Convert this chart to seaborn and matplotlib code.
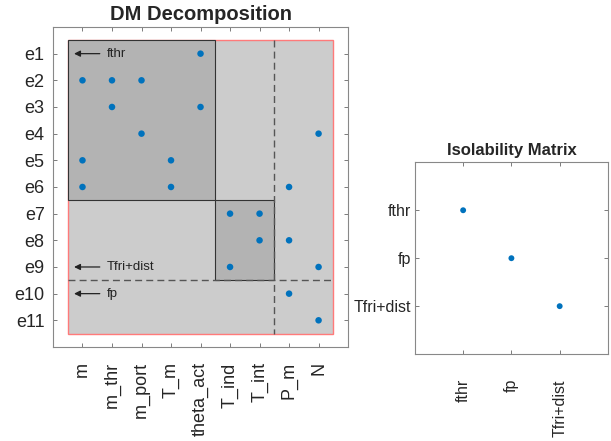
import matplotlib
matplotlib.use("Agg")
import matplotlib.pyplot as plt
import matplotlib.patches as mpatches
import seaborn as sns
import pandas as pd

# ---- data ----
equations = ["e1", "e2", "e3", "e4", "e5", "e6", "e7", "e8", "e9", "e10", "e11"]
variables = ["m", "m_thr", "m_port", "T_m", "theta_act", "T_ind", "T_int", "P_m", "N"]
dot_eq = ["e1", "e2", "e2", "e2", "e3", "e3", "e4", "e4", "e5", "e5",
          "e6", "e6", "e6", "e7", "e7", "e8", "e8", "e9", "e9", "e10", "e11"]
dot_var = ["theta_act", "m", "m_thr", "m_port", "m_thr", "theta_act", "m_port", "N", "m", "T_m",
           "m", "T_m", "P_m", "T_ind", "T_int", "T_int", "P_m", "T_ind", "N", "P_m", "N"]
fault_labels = ["fthr", "Tfri+dist", "fp"]
fault_rows = ["e1", "e9", "e10"]
iso_faults = ["fthr", "fp", "Tfri+dist"]
iso_x = ["fthr", "fp", "Tfri+dist"]
iso_y = ["fthr", "fp", "Tfri+dist"]

sns.set_style("white")
plt.rcParams["font.family"] = ["Liberation Sans", "DejaVu Sans"]

BLUE = "#0072BD"
fig = plt.figure(figsize=(6.11, 4.41), dpi=100)

# ---- DM decomposition ----
ax = fig.add_axes([0.0867, 0.2132, 0.483, 0.7256])
df = pd.DataFrame({
    "x": [variables.index(v) + 1 for v in dot_var],
    "y": [equations.index(e) + 1 for e in dot_eq],
})
nr, nc = len(equations), len(variables)
# background blocks
ax.add_patch(mpatches.Rectangle((0.5, 0.5), nc, nr, facecolor="#cccccc",
                                edgecolor="#ff7a7a", lw=1.0, zorder=0))
ax.add_patch(mpatches.Rectangle((0.5, 0.5), 5, 6, facecolor="#b3b3b3",
                                edgecolor="#333333", lw=0.8, zorder=1))
ax.add_patch(mpatches.Rectangle((5.5, 6.5), 2, 3, facecolor="#b3b3b3",
                                edgecolor="#333333", lw=0.8, zorder=1))
ax.plot([7.5, 7.5], [0.5, nr + 0.5], ls=(0, (5, 3)), color="#555555", lw=1.0, zorder=2)
ax.plot([0.5, nc + 0.5], [9.5, 9.5], ls=(0, (5, 3)), color="#555555", lw=1.0, zorder=2)

sns.scatterplot(data=df, x="x", y="y", ax=ax, color=BLUE, s=22,
                edgecolor="none", zorder=3, legend=False)

for lab, r in zip(fault_labels, fault_rows):
    yy = equations.index(r) + 1
    ax.annotate("", xy=(0.62, yy), xytext=(1.68, yy),
                arrowprops=dict(arrowstyle="-|>", color="#222222", lw=0.9,
                                mutation_scale=9), zorder=4)
    ax.text(1.82, yy, lab, va="center", ha="left", fontsize=9.5, color="#222222", zorder=4)

ax.set_xlim(0, nc + 1)
ax.set_ylim(nr + 1, 0)
ax.set_xticks(range(1, nc + 1))
ax.set_xticklabels(variables, rotation=90, fontsize=13)
ax.set_yticks(range(1, nr + 1))
ax.set_yticklabels(equations, fontsize=13)
ax.set_xlabel("")
ax.set_ylabel("")
ax.set_title("DM Decomposition", fontsize=14.5, fontweight="bold", pad=5)
ax.tick_params(direction="in", length=3, width=0.6, color="#666666",
               top=True, right=True, bottom=True, left=True)
ax.tick_params(axis="x", pad=11)
ax.tick_params(axis="y", pad=6)
for s in ax.spines.values():
    s.set_color("#888888")
    s.set_linewidth(0.8)

# ---- Isolability matrix ----
ax2 = fig.add_axes([0.679, 0.197, 0.316, 0.435])
df2 = pd.DataFrame({
    "x": [iso_faults.index(v) + 1 for v in iso_x],
    "y": [iso_faults.index(v) + 1 for v in iso_y],
})
sns.scatterplot(data=df2, x="x", y="y", ax=ax2, color=BLUE, s=18,
                edgecolor="none", legend=False)
n = len(iso_faults)
ax2.set_xlim(0, n + 1)
ax2.set_ylim(n + 1, 0)
ax2.set_xticks(range(1, n + 1))
ax2.set_xticklabels(iso_faults, rotation=90, fontsize=11.5)
ax2.set_yticks(range(1, n + 1))
ax2.set_yticklabels(iso_faults, fontsize=11.5)
ax2.set_xlabel("")
ax2.set_ylabel("")
ax2.set_title("Isolability Matrix", fontsize=12, fontweight="bold", pad=5)
ax2.tick_params(direction="in", length=3, width=0.6, color="#666666",
                top=True, right=True, bottom=True, left=True)
ax2.tick_params(axis="x", pad=18)
ax2.tick_params(axis="y", pad=3)
for s in ax2.spines.values():
    s.set_color("#888888")
    s.set_linewidth(0.8)

fig.savefig("out.png", dpi=100, facecolor="white")
